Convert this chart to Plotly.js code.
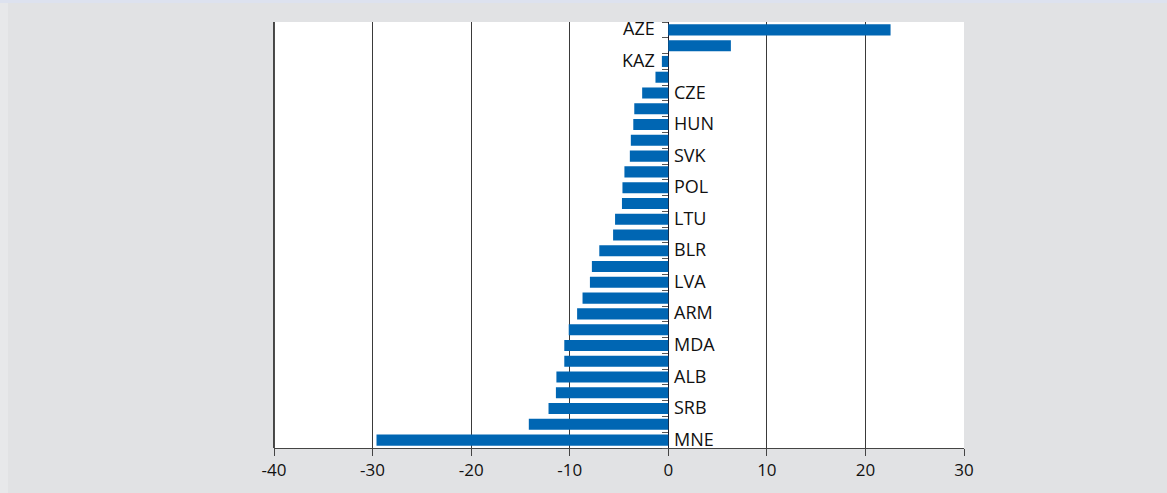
<!DOCTYPE html>
<html>
<head>
<meta charset="utf-8">
<script src="https://cdn.plot.ly/plotly-3.0.1.min.js"></script>
<style>
  html, body { margin: 0; padding: 0; background: #e1e2e4; }
  #chart { width: 1167px; height: 493px; }
</style>
</head>
<body>
<div id="chart"></div>
<script>
// Country labels (only every other bar is labelled in the original)
const labels = ["AZE", "", "KAZ", "", "CZE", "", "HUN", "", "SVK", "", "POL", "", "LTU", "",
                "BLR", "", "LVA", "", "ARM", "", "MDA", "", "ALB", "", "SRB", "", "MNE"];
// Values
const values = [22.55, 6.35, -0.65, -1.3, -2.65, -3.45, -3.55, -3.8, -3.9, -4.45, -4.65, -4.7, -5.4, -5.6,
                -7.0, -7.75, -7.95, -8.7, -9.25, -10.1, -10.55, -10.55, -11.35, -11.4, -12.15, -14.15, -29.6];
const xTicks = [-40, -30, -20, -10, 0, 10, 20, 30];

const positions = values.map((v, i) => i);
const boundaries = [];
for (let i = 0; i <= values.length; i++) boundaries.push(i - 0.5);

const FONT = "Open Sans, DejaVu Sans, sans-serif";

const trace = {
  type: "bar",
  orientation: "h",
  x: values,
  y: positions,
  marker: { color: "#0066b3", line: { width: 0 } },
  width: 0.7,
  hoverinfo: "x"
};

const annotations = [];
labels.forEach((lab, i) => {
  if (!lab) return;
  const left = values[i] > -1;
  annotations.push({
    xref: "x", yref: "y", x: 0, y: i,
    text: lab, showarrow: false,
    xanchor: left ? "right" : "left",
    xshift: left ? -11 : 4,
    yshift: 1.5,
    yanchor: "middle",
    font: { family: FONT, size: 18, color: "#111" }
  });
});

const layout = {
  width: 1167, height: 493,
  margin: { l: 274, r: 203, t: 22, b: 45, pad: 0 },
  paper_bgcolor: "#e1e2e4",
  plot_bgcolor: "#ffffff",
  showlegend: false,
  xaxis: {
    range: [-40, 30],
    tickvals: xTicks,
    ticktext: xTicks.map(String),
    showgrid: true, gridcolor: "#3a3a3a", gridwidth: 1,
    zeroline: true, zerolinecolor: "#1a1a2a", zerolinewidth: 1.5,
    showline: true, linecolor: "#444", linewidth: 1,
    ticks: "outside", ticklen: 7, tickcolor: "#444", tickwidth: 1,
    tickfont: { family: FONT, size: 17, color: "#111" },
    fixedrange: true
  },
  yaxis: {
    range: [values.length - 0.5, -0.5],
    anchor: "free", position: 40 / 70,
    tickvals: boundaries,
    ticks: "outside", ticklen: 6, tickcolor: "#555", tickwidth: 1,
    showticklabels: false,
    showgrid: false, zeroline: false, showline: false,
    fixedrange: true
  },
  annotations: annotations,
  shapes: [
    { type: "rect", xref: "paper", yref: "paper", x0: -0.5, x1: 1.5, y0: 1 + 19 / 426, y1: 1 + 22 / 426,
      fillcolor: "#dde2ef", line: { width: 0 }, layer: "below" },
    { type: "rect", xref: "paper", yref: "paper", x0: -274 / 690, x1: -266 / 690, y0: -45 / 426, y1: 1 + 19 / 426,
      fillcolor: "#e7e8ea", line: { width: 0 }, layer: "below" },
    { type: "line", xref: "paper", yref: "paper", x0: 0, x1: 0, y0: 0, y1: 1,
      line: { color: "#111", width: 1.5 } }
  ]
};

Plotly.newPlot("chart", [trace], layout, { displayModeBar: false, staticPlot: true });
</script>
</body>
</html>
